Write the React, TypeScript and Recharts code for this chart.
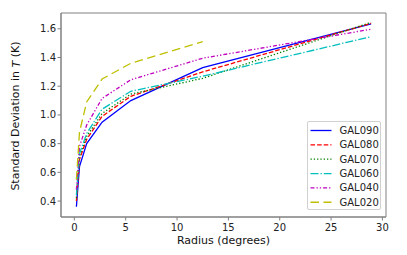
import React from "react";
import { LineChart, Line, XAxis, YAxis, ReferenceArea } from "recharts";

const radii = [0.2, 0.5, 1.2, 2.7, 5.5, 12.5, 28.9];
const gal090 = [0.36, 0.64, 0.8, 0.95, 1.1, 1.33, 1.635];
const gal080 = [0.4, 0.69, 0.83, 0.99, 1.13, 1.3, 1.638];
const gal070 = [0.42, 0.71, 0.85, 1.01, 1.145, 1.255, 1.645];
const gal060 = [0.44, 0.73, 0.87, 1.04, 1.165, 1.27, 1.545];
const gal040 = [0.48, 0.78, 0.93, 1.115, 1.245, 1.395, 1.597];
const gal020 = [0.55, 0.88, 1.09, 1.25, 1.36, 1.51];

const xTicks = [0, 5, 10, 15, 20, 25, 30];
const yTicks = [0.4, 0.6, 0.8, 1.0, 1.2, 1.4, 1.6];

const seriesNames = ["GAL090", "GAL080", "GAL070", "GAL060", "GAL040", "GAL020"];
const seriesValues = [gal090, gal080, gal070, gal060, gal040, gal020];
const seriesColors = ["#0000ff", "#ff0000", "#008000", "#00bfbf", "#bf00bf", "#bfbf00"];
const seriesDashes = ["", "4.6 2", "1.3 2", "8 2 1.3 2", "4 2 1.3 2 1.3 2", "8.5 4.5"];

const X_DOMAIN: [number, number] = [-1.3, 30.35];
const Y_DOMAIN: [number, number] = [0.289, 1.71];
const FONT = "DejaVu Sans, sans-serif";

const series = seriesNames.map((name, i) => ({
  name,
  color: seriesColors[i],
  dash: seriesDashes[i],
  data: seriesValues[i].map((v, j) => ({ r: radii[j], v })),
}));

const LegendBox = () => (
  <div
    style={{
      position: "absolute",
      left: 307,
      top: 121,
      width: 74,
      height: 89,
      boxSizing: "border-box",
      border: "1px solid #d0d0d0",
      borderRadius: 2,
      background: "rgba(255,255,255,0.8)",
    }}
  >
    <svg width={72} height={87} style={{ display: "block" }}>
      {series.map((s, i) => {
        const y = 8.5 + i * 14.35;
        return (
          <g key={s.name}>
            <line x1={2.5} x2={23.5} y1={y} y2={y} stroke={s.color} strokeWidth={1.3} strokeDasharray={s.dash || undefined} />
            <text x={31.5} y={y} dominantBaseline="central" fontFamily={FONT} fontSize={10} fill="#222">
              {s.name}
            </text>
          </g>
        );
      })}
    </svg>
  </div>
);

const XLabel = (props: any) => {
  const vb = props.viewBox || {};
  return (
    <text x={vb.x + vb.width / 2} y={vb.y + 27} textAnchor="middle" fontFamily={FONT} fontSize={11} fill="#111">
      Radius (degrees)
    </text>
  );
};

const YLabel = () => (
  <text
    x={15.5}
    y={116}
    transform="rotate(-90 15.5 116)"
    textAnchor="middle"
    dominantBaseline="central"
    fontFamily={FONT}
    fontSize={11}
    fill="#111"
  >
    Standard Deviation in <tspan fontStyle="italic">T</tspan> (K)
  </text>
);

export default function App() {
  return (
    <div style={{ position: "absolute", left: 0, top: 0, width: 407, height: 255, background: "#fff" }}>
      <LineChart width={407} height={255} margin={{ top: 13, right: 21, bottom: 0, left: 0 }}>
        <XAxis
          type="number"
          dataKey="r"
          domain={X_DOMAIN}
          ticks={xTicks}
          allowDataOverflow
          height={38}
          stroke="#808080"
          tickSize={3.5}
          tickMargin={3.5}
          tick={{ fill: "#222", fontSize: 10, fontFamily: FONT }}
          label={<XLabel />}
        />
        <YAxis
          type="number"
          domain={Y_DOMAIN}
          ticks={yTicks}
          allowDataOverflow
          width={61}
          stroke="#808080"
          tickSize={3.5}
          tickMargin={1.5}
          tickFormatter={(v: number) => v.toFixed(1)}
          tick={{ fill: "#222", fontSize: 10, fontFamily: FONT }}
          label={<YLabel />}
        />
        <ReferenceArea
          x1={X_DOMAIN[0]}
          x2={X_DOMAIN[1]}
          y1={Y_DOMAIN[0]}
          y2={Y_DOMAIN[1]}
          fill="none"
          fillOpacity={0}
          stroke="#808080"
          strokeWidth={1}
        />
        {series.map((s) => (
          <Line
            key={s.name}
            data={s.data}
            dataKey="v"
            name={s.name}
            type="linear"
            stroke={s.color}
            strokeWidth={1.3}
            strokeDasharray={s.dash || undefined}
            dot={false}
            activeDot={false}
            isAnimationActive={false}
          />
        ))}
      </LineChart>
      <LegendBox />
    </div>
  );
}
